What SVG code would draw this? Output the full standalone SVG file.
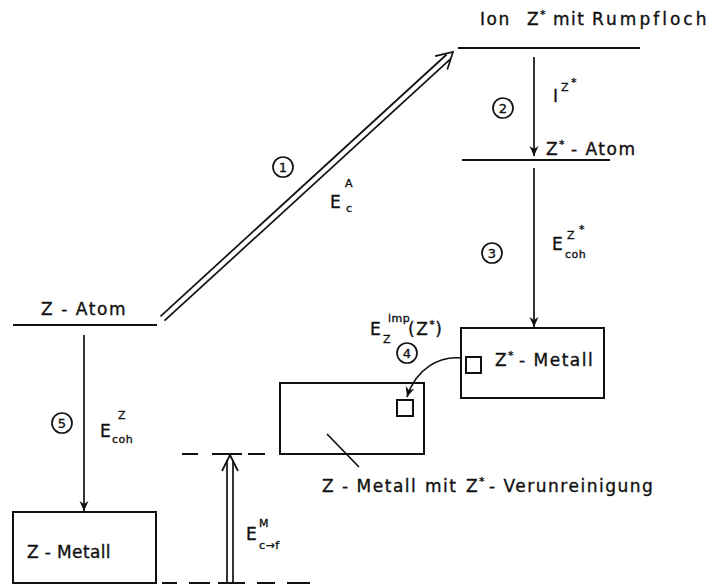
<svg xmlns="http://www.w3.org/2000/svg" width="712" height="585" viewBox="0 0 712 585">
<style>
text{font-family:"DejaVu Sans","Liberation Sans",sans-serif;fill:#111;stroke:#111;stroke-width:0.35;}
.t{font-size:17px;letter-spacing:1.5px;}
.s{font-size:11px;letter-spacing:0.5px;}
.n{font-size:13px;text-anchor:middle;}
.lvl{stroke:#111;stroke-width:2;fill:none;}
.box{stroke:#111;stroke-width:2;fill:none;}
.ln{stroke:#111;stroke-width:1.7;fill:none;}
.dash{stroke:#111;stroke-width:2;}
.circ{stroke:#111;stroke-width:1.7;fill:none;}
</style>
<defs>
<marker id="ah" viewBox="0 0 10 10" refX="10" refY="5" markerWidth="10" markerHeight="10" markerUnits="userSpaceOnUse" orient="auto">
<path d="M0,0.5 L10,5 L0,9.5 L3,5 z" fill="#111"/>
</marker>
</defs>

<g id="level-ion">
<line class="lvl" x1="458" y1="48" x2="640" y2="48"/>
<text class="t" y="25"><tspan x="480">Ion</tspan><tspan x="527">Z</tspan><tspan x="540" dy="-7" class="s">*</tspan><tspan x="553" dy="7">mit</tspan><tspan x="592" textLength="116">Rumpfloch</tspan></text>
</g>

<g id="level-zstar-atom">
<line class="lvl" x1="462" y1="160" x2="610" y2="160"/>
<text class="t" y="155"><tspan x="546">Z</tspan><tspan x="559" dy="-7" class="s">*</tspan><tspan x="571" dy="7">- Atom</tspan></text>
</g>

<g id="level-z-atom">
<line class="lvl" x1="13" y1="325" x2="157" y2="325"/>
<text class="t" x="41" y="315" textLength="86">Z - Atom</text>
</g>

<g id="box-zstar-metall">
<rect class="box" x="461" y="328" width="143" height="70"/>
<rect class="box" x="466" y="357" width="15" height="16"/>
<text class="t" y="366"><tspan x="495">Z</tspan><tspan x="508" dy="-7" class="s">*</tspan><tspan x="519" dy="7">- Metall</tspan></text>
</g>

<g id="box-z-metall-imp">
<rect class="box" x="280" y="383" width="144" height="71"/>
<rect class="box" x="397" y="400" width="16" height="16"/>
<line class="ln" x1="327" y1="434" x2="359" y2="467"/>
<text class="t" y="492"><tspan x="322">Z - Metall</tspan><tspan x="425">mit</tspan><tspan x="466">Z</tspan><tspan x="479" dy="-7" class="s">*</tspan><tspan x="489" dy="7">- Verunreinigung</tspan></text>
</g>

<g id="box-z-metall">
<rect class="box" x="13" y="512" width="143" height="71"/>
<text class="t" x="27" y="558" textLength="85">Z - Metall</text>
</g>

<g id="connectors">
<line class="ln" x1="160.5" y1="316.3" x2="446.6" y2="54.5"/>
<line class="ln" x1="164.5" y1="320.7" x2="450.6" y2="58.9"/>
<polyline class="ln" points="435.1,56.2 453,52 447.3,69.4"/>
<line class="ln" x1="534" y1="57" x2="534" y2="156" marker-end="url(#ah)"/>
<line class="ln" x1="534" y1="168" x2="534" y2="327" marker-end="url(#ah)"/>
<path class="ln" d="M461,358 C440,356 416,368 407,397" marker-end="url(#ah)"/>
<line class="ln" x1="84" y1="335" x2="84" y2="511" marker-end="url(#ah)"/>
<line class="ln" x1="227" y1="583" x2="227" y2="460"/>
<line class="ln" x1="233" y1="583" x2="233" y2="460"/>
<polyline class="ln" points="222,471 230,455 238,471"/>
<line class="dash" x1="182" y1="454" x2="198" y2="454"/>
<line class="dash" x1="212" y1="454" x2="242" y2="454"/>
<line class="dash" x1="248" y1="454" x2="265" y2="454"/>
<line class="dash" x1="162" y1="583" x2="177" y2="583"/>
<line class="dash" x1="189" y1="583" x2="210" y2="583"/>
<line class="dash" x1="218" y1="583" x2="245" y2="583"/>
<line class="dash" x1="257" y1="583" x2="275" y2="583"/>
<line class="dash" x1="287" y1="583" x2="310" y2="583"/>
</g>

<g id="labels">
<circle class="circ" cx="283" cy="167" r="10"/><text class="n" x="283" y="172">1</text>
<text class="t" x="330" y="208">E</text><text class="s" x="345" y="187">A</text><text class="s" x="346" y="212">c</text>

<circle class="circ" cx="503" cy="108" r="10"/><text class="n" x="503" y="113">2</text>
<text class="t" x="553" y="102">I</text><text class="s" x="561" y="91">Z</text><text class="s" x="571" y="86">*</text>

<circle class="circ" cx="492" cy="253" r="10"/><text class="n" x="492" y="258">3</text>
<text class="t" x="552" y="250">E</text><text class="s" x="567" y="239">Z</text><text class="s" x="579" y="233">*</text><text class="s" x="565" y="258">coh</text>

<circle class="circ" cx="407" cy="353" r="10"/><text class="n" x="407" y="358">4</text>
<text class="t" x="370" y="335">E</text><text class="s" x="388" y="322">imp</text><text class="s" x="383" y="343">Z</text>
<text class="t" y="335"><tspan x="408">(Z</tspan><tspan dy="-7" class="s">*</tspan><tspan dy="7">)</tspan></text>

<circle class="circ" cx="62" cy="423" r="10"/><text class="n" x="62" y="428">5</text>
<text class="t" x="100" y="437">E</text><text class="s" x="118" y="419">Z</text><text class="s" x="112" y="443">coh</text>

<text class="t" x="246" y="540">E</text><text class="s" x="259" y="527">M</text><text class="s" x="259" y="549">c→f</text>
</g>
</svg>
